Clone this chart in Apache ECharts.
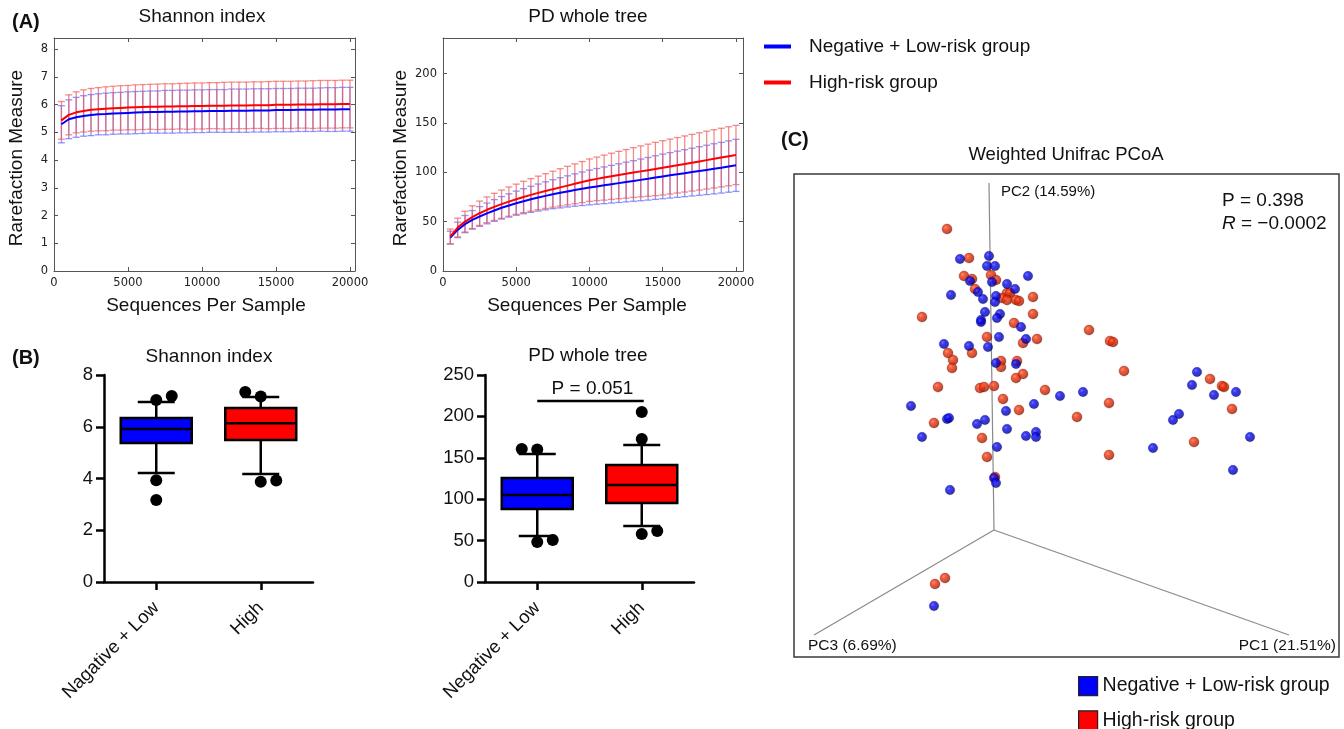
<!DOCTYPE html>
<html>
<head>
<meta charset="utf-8">
<title>Alpha and beta diversity by risk group</title>
<script src="https://cdn.jsdelivr.net/npm/echarts@6/dist/echarts.min.js"></script>
<style>
  html, body { margin: 0; padding: 0; background: #fff; }
  #main { width: 1344px; height: 729px; }
</style>
</head>
<body>
<div id="main"></div>
<script>
// ---------------- data ----------------
// (A) rarefaction: sequencing depth and mean ± SD of each alpha metric
const depths = [500, 1000, 1500, 2000, 2500, 3000, 3500, 4000, 4500, 5000,
  5500, 6000, 6500, 7000, 7500, 8000, 8500, 9000, 9500, 10000,
  10500, 11000, 11500, 12000, 12500, 13000, 13500, 14000, 14500, 15000,
  15500, 16000, 16500, 17000, 17500, 18000, 18500, 19000, 19500, 20000];

const shannonLowMean = [5.29, 5.47, 5.54, 5.59, 5.62, 5.65, 5.66, 5.68, 5.69, 5.70,
  5.71, 5.72, 5.73, 5.73, 5.74, 5.74, 5.75, 5.75, 5.76, 5.76,
  5.77, 5.77, 5.77, 5.78, 5.78, 5.78, 5.79, 5.79, 5.79, 5.80,
  5.80, 5.80, 5.81, 5.81, 5.81, 5.82, 5.82, 5.82, 5.83, 5.83];
const shannonLowSd = [0.67, 0.70, 0.72, 0.73, 0.74, 0.74, 0.75, 0.75, 0.75, 0.76,
  0.76, 0.76, 0.76, 0.76, 0.77, 0.77, 0.77, 0.77, 0.77, 0.77,
  0.77, 0.77, 0.77, 0.78, 0.78, 0.78, 0.78, 0.78, 0.78, 0.78,
  0.78, 0.78, 0.78, 0.78, 0.78, 0.78, 0.79, 0.79, 0.79, 0.79];
const shannonHighMean = [5.43, 5.63, 5.72, 5.77, 5.81, 5.83, 5.85, 5.87, 5.88, 5.89,
  5.90, 5.91, 5.92, 5.92, 5.93, 5.93, 5.94, 5.94, 5.95, 5.95,
  5.96, 5.96, 5.96, 5.97, 5.97, 5.97, 5.98, 5.98, 5.98, 5.99,
  5.99, 5.99, 6.00, 6.00, 6.00, 6.01, 6.01, 6.01, 6.02, 6.02];
const shannonHighSd = [0.68, 0.72, 0.74, 0.76, 0.77, 0.78, 0.79, 0.79, 0.80, 0.80,
  0.81, 0.81, 0.81, 0.82, 0.82, 0.82, 0.82, 0.83, 0.83, 0.83,
  0.83, 0.83, 0.84, 0.84, 0.84, 0.84, 0.84, 0.84, 0.85, 0.85,
  0.85, 0.85, 0.85, 0.85, 0.86, 0.86, 0.86, 0.86, 0.86, 0.86];

const pdLowMean = [33.8, 41.6, 47.5, 51.8, 55.2, 58.3, 61.3, 64.0, 66.4, 68.7,
  70.7, 72.6, 74.4, 76.1, 77.8, 79.2, 80.6, 82.0, 83.3, 84.6,
  85.7, 86.8, 87.9, 89.0, 90.1, 91.2, 92.3, 93.4, 94.6, 95.8,
  96.9, 98.0, 99.1, 100.2, 101.3, 102.4, 103.5, 104.6, 105.8, 107.0];
const pdLowSd = [6.5, 7.8, 8.7, 9.4, 10.0, 10.5, 11.0, 11.4, 11.8, 12.2,
  12.7, 13.2, 13.7, 14.2, 14.7, 15.3, 15.8, 16.4, 17.0, 17.6,
  18.1, 18.6, 19.1, 19.6, 20.1, 20.6, 21.1, 21.6, 22.1, 22.6,
  23.0, 23.4, 23.8, 24.2, 24.6, 25.0, 25.4, 25.7, 26.0, 26.4];
const pdHighMean = [35.0, 44.0, 50.0, 54.5, 58.5, 62.0, 65.0, 67.7, 70.3, 72.7,
  75.0, 77.1, 79.1, 81.0, 82.9, 84.7, 86.5, 88.3, 90.1, 92.0,
  93.3, 94.6, 95.9, 97.2, 98.4, 99.7, 100.9, 102.1, 103.3, 104.5,
  105.8, 107.1, 108.4, 109.7, 111.0, 112.3, 113.6, 114.9, 116.2, 117.5];
const pdHighSd = [7.5, 9.5, 10.5, 11.5, 12.3, 13.0, 13.7, 14.3, 14.8, 15.3,
  15.9, 16.5, 17.0, 17.6, 18.2, 18.9, 19.5, 20.2, 20.8, 21.5,
  22.1, 22.8, 23.4, 24.0, 24.6, 25.2, 25.8, 26.4, 27.0, 27.5,
  27.8, 28.1, 28.4, 28.7, 29.0, 29.3, 29.5, 29.7, 29.9, 30.0];

const groupNames = ['Negative + Low-risk group', 'High-risk group'];

// (B) box plots: [whisker low, Q1, median, Q3, whisker high] and outlying samples
const shannonCategories = ['Nagative + Low', 'High'];
const pdCategories = ['Negative + Low', 'High'];
const shannonLowBox = [4.21, 5.37, 5.91, 6.34, 6.96];
const shannonHighBox = [4.17, 5.49, 6.14, 6.72, 7.15];
const shannonLowOutliers = [7.03, 7.19, 3.93, 3.17];
const shannonHighOutliers = [7.34, 7.17, 3.87, 3.92];
const pdLowBox = [55.6, 88.2, 105.0, 125.6, 154.6];
const pdHighBox = [67.6, 95.4, 117.0, 141.3, 165.5];
const pdLowOutliers = [160.6, 160.0, 48.3, 50.7];
const pdHighOutliers = [205.3, 172.7, 57.9, 61.6];
const pdPValue = 0.051;
const pdBracketLevel = 218.6;

// (C) weighted UniFrac PCoA, samples projected onto the plane of the 3-D view
const pcoaLow = [[-34, 271], [-5, 274], [-7, 264], [1, 264], [34, 254], [-24, 249], [-2, 248],
  [13, 246], [21, 241], [-16, 238], [-43, 235], [2, 234], [-11, 231], [1, 228], [-9, 218],
  [6, 216], [-13, 210], [-13, 208], [3, 212], [27, 203], [5, 193], [32, 191], [-50, 186],
  [-25, 184], [-6, 183], [2, 167], [22, 166], [66, 134], [-83, 124], [12, 119], [40, 126],
  [-47, 111], [-45, 112], [-17, 106], [-9, 110], [13, 101], [32, 94], [42, 98], [42, 93],
  [-72, 93], [3, 83], [0, 52], [2, 47], [-44, 40], [203, 158], [198, 145], [89, 138],
  [220, 135], [242, 138], [185, 116], [179, 110], [159, 82], [256, 93], [239, 60], [-60, -76]];
const pcoaHigh = [[-47, 301], [-25, 272], [-30, 254], [-22, 251], [-3, 255], [2, 250], [-19, 241],
  [13, 237], [16, 237], [8, 232], [13, 230], [22, 230], [25, 229], [39, 233], [39, 216],
  [-72, 213], [20, 207], [-7, 193], [29, 187], [43, 191], [-46, 177], [-22, 177], [-41, 170],
  [-42, 162], [7, 169], [7, 163], [23, 169], [22, 152], [29, 156], [-56, 143], [-14, 142],
  [-10, 143], [0, 144], [51, 140], [9, 131], [25, 120], [95, 200], [116, 189], [119, 188],
  [130, 159], [216, 151], [228, 144], [230, 143], [115, 127], [238, 121], [83, 113], [-60, 107],
  [-12, 92], [-7, 73], [1, 53], [200, 88], [115, 75], [-49, -48], [-59, -54]];
const pcAxisEnds = [[295, -105], [-5, 347], [-180, -105]];
const pcAxisLabels = ['PC1 (21.51%)', 'PC2 (14.59%)', 'PC3 (6.69%)'];
const pcoaP = 0.398;
const pcoaR = -0.0002;

// ---------------- layout & styles ----------------
const FONT = '"Liberation Sans", Arial, Helvetica, sans-serif';
const TICK_FONT = '"DejaVu Sans", sans-serif';
const BLUE = '#0000ff';
const RED = '#ff0000';
const BOX_FILL = [BLUE, RED];
const DOT_STEP = 15.5;                      // horizontal spread of overlapping dots
const OUTLIER_LANES = {
  shannonLow: [0, 1, 0, 0], shannonHigh: [-1, 0, 0, 1],
  pdLow: [-1, 0, 0, 1], pdHigh: [0, 0, 0, 1]
};

const chart = echarts.init(document.getElementById('main'), null, { renderer: 'canvas' });

// matplotlib-style framed axes for the rarefaction panels
function frameAxes(grid, xMax, yMax, yStep) {
  const line = { show: true, onZero: false, lineStyle: { color: '#555', width: 1 } };
  const tick = { show: true, inside: true, length: 4, lineStyle: { color: '#555', width: 1 } };
  const label = { fontFamily: TICK_FONT, fontSize: 11.5, color: '#222', formatter: v => String(v) };
  const common = { gridIndex: grid, type: 'value', splitLine: { show: false }, axisLine: line, axisTick: tick };
  return {
    x: [
      Object.assign({}, common, { min: 0, max: xMax, interval: 5000, position: 'bottom',
        axisLabel: Object.assign({ margin: 6, showMaxLabel: false }, label) }),
      Object.assign({}, common, { min: 0, max: xMax, interval: 5000, position: 'top', axisLabel: { show: false } })
    ],
    y: [
      Object.assign({}, common, { min: 0, max: yMax, interval: yStep, position: 'left',
        axisLabel: Object.assign({ margin: 6, showMaxLabel: false }, label) }),
      Object.assign({}, common, { min: 0, max: yMax, interval: yStep, position: 'right', axisLabel: { show: false } })
    ]
  };
}

// GraphPad-style axes for the box plots
function boxAxes(grid, cats, yMax, yStep) {
  const ls = { color: '#000', width: 2.5 };
  return {
    x: { gridIndex: grid, type: 'category', data: cats, boundaryGap: true,
      axisLine: { show: true, onZero: false, lineStyle: ls },
      axisTick: { show: true, alignWithLabel: true, length: 8, lineStyle: ls },
      axisLabel: { rotate: 45, margin: 23, fontFamily: FONT, fontSize: 18.5, color: '#111' } },
    y: { gridIndex: grid, type: 'value', min: 0, max: yMax, interval: yStep,
      splitLine: { show: false },
      axisLine: { show: true, onZero: false, lineStyle: ls },
      axisTick: { show: true, length: 8, lineStyle: ls },
      axisLabel: { margin: 11, fontFamily: FONT, fontSize: 18.5, color: '#111' } }
  };
}

const a1 = frameAxes(0, 20340, 8.4, 1);
const a2 = frameAxes(1, 20480, 236, 50);
const b1 = boxAxes(2, shannonCategories, 8, 2);
const b2 = boxAxes(3, pdCategories, 250, 50);

function zip3(a, b, c) { return a.map((v, i) => [v, b[i], c[i]]); }
function zip2(a, b) { return a.map((v, i) => [v, b[i]]); }

function errorBars(capHalf) {
  return function (params, api) {
    const x = api.value(0), m = api.value(1), s = api.value(2);
    const top = api.coord([x, m + s]);
    const bot = api.coord([x, m - s]);
    const style = { stroke: api.visual('color'), lineWidth: 1.3 };
    return { type: 'group', children: [
      { type: 'line', shape: { x1: top[0], y1: top[1], x2: bot[0], y2: bot[1] }, style },
      { type: 'line', shape: { x1: top[0] - capHalf, y1: top[1], x2: top[0] + capHalf, y2: top[1] }, style },
      { type: 'line', shape: { x1: bot[0] - capHalf, y1: bot[1], x2: bot[0] + capHalf, y2: bot[1] }, style }
    ] };
  };
}

function rarefactionSeries(xi, yi, lowMean, lowSd, highMean, highSd) {
  return [
    { type: 'custom', xAxisIndex: xi, yAxisIndex: yi, z: 1, itemStyle: { color: 'rgba(110,110,250,0.75)' },
      renderItem: errorBars(3.5), encode: { x: 0, y: 1 }, data: zip3(depths, lowMean, lowSd) },
    { type: 'custom', xAxisIndex: xi, yAxisIndex: yi, z: 1, itemStyle: { color: 'rgba(240,90,90,0.7)' },
      renderItem: errorBars(3.5), encode: { x: 0, y: 1 }, data: zip3(depths, highMean, highSd) },
    { type: 'line', name: groupNames[0], xAxisIndex: xi, yAxisIndex: yi, z: 3, symbol: 'none',
      color: BLUE, lineStyle: { color: BLUE, width: 2 }, data: zip2(depths, lowMean) },
    { type: 'line', name: groupNames[1], xAxisIndex: xi, yAxisIndex: yi, z: 3, symbol: 'none',
      color: RED, lineStyle: { color: RED, width: 2 }, data: zip2(depths, highMean) }
  ];
}

function renderBox(params, api) {
  const c = api.value(0);
  const lo = api.coord([c, api.value(1)]);
  const q1 = api.coord([c, api.value(2)]);
  const md = api.coord([c, api.value(3)]);
  const q3 = api.coord([c, api.value(4)]);
  const hi = api.coord([c, api.value(5)]);
  const x = lo[0], hw = 35.5, cw = 18.5;
  const st = { stroke: '#000', lineWidth: 2.5 };
  return { type: 'group', children: [
    { type: 'line', shape: { x1: x, y1: q3[1], x2: x, y2: hi[1] }, style: st },
    { type: 'line', shape: { x1: x, y1: q1[1], x2: x, y2: lo[1] }, style: st },
    { type: 'line', shape: { x1: x - cw, y1: hi[1], x2: x + cw, y2: hi[1] }, style: st },
    { type: 'line', shape: { x1: x - cw, y1: lo[1], x2: x + cw, y2: lo[1] }, style: st },
    { type: 'rect', shape: { x: x - hw, y: q3[1], width: hw * 2, height: q1[1] - q3[1] },
      style: { fill: BOX_FILL[params.dataIndex], stroke: '#000', lineWidth: 2.5 } },
    { type: 'line', shape: { x1: x - hw, y1: md[1], x2: x + hw, y2: md[1] }, style: st }
  ] };
}

function boxSeries(xi, yi, lowBox, highBox) {
  return { type: 'custom', xAxisIndex: xi, yAxisIndex: yi, z: 2, renderItem: renderBox,
    encode: { x: 0, y: [1, 2, 3, 4, 5] }, data: [[0].concat(lowBox), [1].concat(highBox)] };
}

function outlierSeries(xi, yi, values, cat, lanes) {
  return { type: 'custom', xAxisIndex: xi, yAxisIndex: yi, z: 4,
    renderItem: function (params, api) {
      const p = api.coord([api.value(0), api.value(1)]);
      return { type: 'circle', shape: { cx: p[0] + lanes[params.dataIndex] * DOT_STEP, cy: p[1], r: 6 },
        style: { fill: '#000' } };
    },
    encode: { x: 0, y: 1 }, data: values.map(v => [cat, v]) };
}

function sphere(stops) {
  return { type: 'radial', x: 0.38, y: 0.36, r: 0.66,
    colorStops: stops.map((c, i) => ({ offset: [0, 0.3, 0.78, 1][i], color: c })) };
}

const series = []
  .concat(rarefactionSeries(0, 0, shannonLowMean, shannonLowSd, shannonHighMean, shannonHighSd))
  .concat(rarefactionSeries(2, 2, pdLowMean, pdLowSd, pdHighMean, pdHighSd))
  .concat([
    boxSeries(4, 4, shannonLowBox, shannonHighBox),
    boxSeries(5, 5, pdLowBox, pdHighBox),
    outlierSeries(4, 4, shannonLowOutliers, 0, OUTLIER_LANES.shannonLow),
    outlierSeries(4, 4, shannonHighOutliers, 1, OUTLIER_LANES.shannonHigh),
    outlierSeries(5, 5, pdLowOutliers, 0, OUTLIER_LANES.pdLow),
    outlierSeries(5, 5, pdHighOutliers, 1, OUTLIER_LANES.pdHigh),
    // significance bracket between the two PD groups
    { type: 'custom', xAxisIndex: 5, yAxisIndex: 5, z: 4,
      renderItem: function (params, api) {
        const a = api.coord([api.value(0), api.value(2)]);
        const b = api.coord([api.value(1), api.value(2)]);
        return { type: 'group', children: [
          { type: 'line', shape: { x1: a[0], y1: a[1], x2: b[0] + 2, y2: b[1] }, style: { stroke: '#000', lineWidth: 2.5 } },
          { type: 'text', x: (a[0] + b[0]) / 2 + 3, y: a[1] - 12,
            style: { text: 'P = ' + pdPValue.toFixed(3), fill: '#111', fontSize: 19, fontFamily: FONT,
              align: 'center', verticalAlign: 'middle', textAlign: 'center', textVerticalAlign: 'middle' } }
        ] };
      },
      encode: { x: [0, 1], y: 2 }, data: [[0, 1, pdBracketLevel]] },
    // PCoA axes of the 3-D view
    { type: 'custom', xAxisIndex: 6, yAxisIndex: 6, z: 1,
      renderItem: function (params, api) {
        const o = api.coord([0, 0]);
        const e = api.coord([api.value(0), api.value(1)]);
        return { type: 'line', shape: { x1: o[0], y1: o[1], x2: e[0], y2: e[1] },
          style: { stroke: '#8a8a8a', lineWidth: 1.2 } };
      },
      encode: { x: 0, y: 1 }, data: pcAxisEnds },
    { type: 'scatter', name: groupNames[1], xAxisIndex: 6, yAxisIndex: 6, z: 3, symbol: 'circle', symbolSize: 10,
      itemStyle: { color: sphere(['#ff7448', '#ee3410', '#bf2000', '#5e0e00']), borderColor: 'rgba(80,10,0,0.55)', borderWidth: 0.6 },
      data: pcoaHigh },
    { type: 'scatter', name: groupNames[0], xAxisIndex: 6, yAxisIndex: 6, z: 4, symbol: 'circle', symbolSize: 9.5,
      itemStyle: { color: sphere(['#5050ff', '#0808f2', '#0000b4', '#00004e']), borderColor: 'rgba(0,0,60,0.55)', borderWidth: 0.6 },
      data: pcoaLow }
  ]);

function label(x, y, text, size, opt) {
  opt = opt || {};
  const align = opt.align || 'center';
  return { type: 'text', x: x, y: y, rotation: opt.rot || 0, silent: true, z: 10,
    style: { text: text, fill: '#111', fontSize: size, fontFamily: FONT, fontWeight: opt.weight || 'normal',
      align: align, verticalAlign: 'middle', textAlign: align, textVerticalAlign: 'middle', rich: opt.rich } };
}

const minus = s => s.replace('-', '\u2212');

const option = {
  animation: false,
  backgroundColor: '#fff',
  grid: [
    { left: 54, top: 38, width: 301, height: 233 },
    { left: 443, top: 38, width: 300, height: 233 },
    { left: 104, top: 375, width: 209, height: 207 },
    { left: 485, top: 375, width: 209, height: 207 },
    { left: 794, top: 174, width: 545, height: 483, show: true, borderColor: '#3a3a3a', borderWidth: 1.5, backgroundColor: 'transparent' }
  ],
  xAxis: [a1.x[0], a1.x[1], a2.x[0], a2.x[1], b1.x, b2.x,
    { gridIndex: 4, type: 'value', min: -200, max: 345, show: false }],
  yAxis: [a1.y[0], a1.y[1], a2.y[0], a2.y[1], b1.y, b2.y,
    { gridIndex: 4, type: 'value', min: -127, max: 356, show: false }],
  legend: [
    { left: 764, top: 37, padding: 0, orient: 'vertical', icon: 'rect', itemWidth: 27, itemHeight: 4, itemGap: 17,
      selectedMode: false, textStyle: { fontFamily: FONT, fontSize: 19, lineHeight: 19, color: '#111', padding: [0, 0, 0, 13] },
      data: [{ name: groupNames[0], itemStyle: { color: BLUE } }, { name: groupNames[1], itemStyle: { color: RED } }] },
    { left: 1078, top: 676, width: 270, height: 60, padding: 0, orient: 'vertical', icon: 'rect',
      itemWidth: 19, itemHeight: 19, itemGap: 14,
      selectedMode: false, itemStyle: { borderColor: '#222', borderWidth: 1.2 },
      textStyle: { fontFamily: FONT, fontSize: 19.5, lineHeight: 19, color: '#111' },
      data: [{ name: groupNames[0], itemStyle: { color: BLUE, borderColor: '#222', borderWidth: 1.2 } },
             { name: groupNames[1], itemStyle: { color: RED, borderColor: '#222', borderWidth: 1.2 } }] }
  ],
  graphic: [
    label(12, 22, '(A)', 20, { align: 'left', weight: 'bold' }),
    label(12, 358, '(B)', 20, { align: 'left', weight: 'bold' }),
    label(781, 140, '(C)', 20, { align: 'left', weight: 'bold' }),
    label(202, 17, 'Shannon index', 19),
    label(588, 17, 'PD whole tree', 19),
    label(17, 158, 'Rarefaction Measure', 19, { rot: Math.PI / 2 }),
    label(401, 158, 'Rarefaction Measure', 19, { rot: Math.PI / 2 }),
    label(206, 306, 'Sequences Per Sample', 19),
    label(587, 306, 'Sequences Per Sample', 19),
    label(209, 357, 'Shannon index', 19),
    label(588, 356, 'PD whole tree', 19),
    label(1066, 155, 'Weighted Unifrac PCoA', 18.5),
    label(1222, 201, 'P = ' + pcoaP, 19, { align: 'left' }),
    label(1222, 224, '{it|R} = ' + minus(String(pcoaR)), 19, { align: 'left',
      rich: { it: { fontStyle: 'italic', fontSize: 19, fontFamily: FONT, fill: '#111', color: '#111' } } }),
    label(1001, 192, pcAxisLabels[1], 15, { align: 'left' }),
    label(808, 646, pcAxisLabels[2], 15.5, { align: 'left' }),
    label(1336, 646, pcAxisLabels[0], 15.5, { align: 'right' })
  ],
  series: series
};

chart.setOption(option);
</script>
</body>
</html>
